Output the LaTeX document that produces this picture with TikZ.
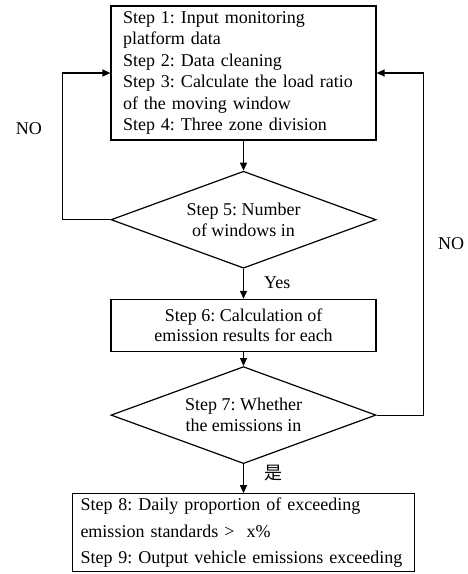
\documentclass[tikz,border=0pt]{standalone}
\usepackage{fontspec}
\setmainfont{Liberation Serif}
\newfontfamily\cjk{Noto Sans CJK SC}
\usepackage{tikz}
\usetikzlibrary{arrows.meta,positioning,shapes.geometric,calc}
\frenchspacing

\begin{document}
\begin{tikzpicture}[x=1pt, y=1pt, line width=1.2pt, >={Triangle[length=8pt,width=7pt]},
  font=\fontsize{18}{21.4}\selectfont]
\tikzstyle{stepbox}=[draw, align=left, text width=241pt, inner xsep=12pt, minimum height=134pt]
\tikzstyle{calcbox}=[draw, align=center, minimum width=265pt, minimum height=52pt, font=\fontsize{18}{20}\selectfont]
\tikzstyle{check}=[draw, diamond, shape aspect=2.73, align=center, inner sep=0pt, minimum width=265pt, minimum height=97pt]
\tikzstyle{outbox}=[draw, align=left, text width=326pt, inner xsep=8pt, minimum height=78pt, font=\fontsize{18}{26.5}\selectfont]
\tikzstyle{lbl}=[inner sep=0pt]

\useasboundingbox (0,0) rectangle (467,-574);

\node[stepbox] (prep) at (243.5,-73) {Step 1: Input monitoring\\platform data\\Step 2: Data cleaning\\Step 3: Calculate the load ratio\\of the moving window\\Step 4: Three zone division};
\node[check, below=30pt of prep] (win) {Step 5: Number\\of windows in};
\node[calcbox, below=30pt of win] (emis) {Step 6: Calculation of\\emission results for each};
\node[check, below=14pt of emis] (judge) {Step 7: Whether\\the emissions in};
\node[outbox, below=29pt of judge] (out) {Step 8: Daily proportion of exceeding\\emission standards >\ \ x\%\\Step 9: Output vehicle emissions exceeding};

\coordinate (lft) at ($(win.west)+(-48,0)$);
\coordinate (rgt) at ($(judge.east)+(47,0)$);

\draw[->] (prep) -- (win);
\draw[->] (win) -- node[lbl, right=20pt, pos=0.45] {Yes} (emis);
\draw[->] (emis) -- (judge);
\draw[->] (judge) -- node[lbl, right=20pt, pos=0.3] {\cjk 是} (out);
\draw[->] (win.west) -- (lft) |- node[lbl, left=20pt, pos=0.31] {NO} (prep.west);
\draw[->] (judge.east) -- (rgt) |- node[lbl, right=14pt, pos=0.25] {NO} (prep.east);
\end{tikzpicture}
\end{document}
